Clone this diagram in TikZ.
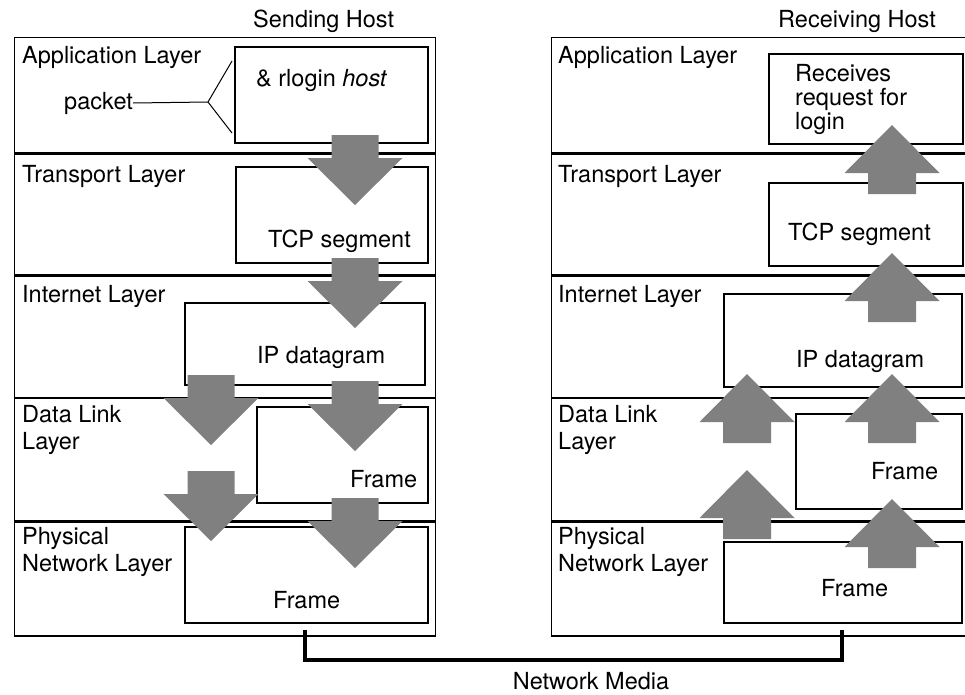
\documentclass[tikz,border=0pt]{standalone}
\usepackage{fontspec}
\setmainfont{TeX Gyre Heros}
\usetikzlibrary{positioning}
\definecolor{arrowgrey}{RGB}{128,128,128}

\begin{document}
\begin{tikzpicture}[
    x=1pt, y=-1pt,
    every node/.style={font=\fontsize{23.5}{27}\selectfont, inner sep=0pt},
    layer/.style={rectangle, draw=black, line width=1.3pt, minimum width=421pt},
    unit/.style={rectangle, draw=black, line width=1.8pt, anchor=north west},
    txt/.style={anchor=base west, align=left},
    media/.style={draw, line width=4.5pt},
    blockdown/.pic={\fill[arrowgrey] (-23.5,0) -- (-23.5,23) -- (-47.5,23) -- (0,70) -- (47.5,23) -- (23.5,23) -- (23.5,0) -- cycle;},
    blockup/.pic={\fill[arrowgrey] (-24,0) -- (-24,-21) -- (-47.5,-21) -- (0,-69) -- (47.5,-21) -- (24,-21) -- (24,0) -- cycle;}
  ]
    \useasboundingbox (0,0) rectangle (965,694);
    \clip (0,0) rectangle (965,694);

    % sending host
    \node [layer, anchor=north west, minimum height=115pt] at (14,37) (sapp) {};
    \node [layer, minimum height=121pt, below=0pt of sapp] (stcp) {};
    \node [layer, minimum height=121pt, below=0pt of stcp] (sip) {};
    \node [layer, minimum height=122pt, below=0pt of sip] (slink) {};
    \node [layer, minimum height=114pt, below=0pt of slink] (sphy) {};

    \node [txt] at (253,27) (stitle) {Sending Host};
    \node [txt] at (22,63) (sapplbl) {Application Layer};
    \node [txt] at (22,182) (stcplbl) {Transport Layer};
    \node [txt] at (22,302) (siplbl) {Internet Layer};
    \node [txt] at (22,449) (slinklbl) {Data Link\\Layer};
    \node [txt] at (22,571) (sphylbl) {Physical\\Network Layer};

    \node [unit, minimum width=193pt, minimum height=96pt] at (234,46) (sappbox) {};
    \node [unit, minimum width=192pt, minimum height=96pt] at (235,166) (stcpbox) {};
    \node [unit, minimum width=240pt, minimum height=82pt] at (184,302) (sipbox) {};
    \node [unit, minimum width=171pt, minimum height=96pt] at (256,406) (slinkbox) {};
    \node [unit, minimum width=243pt, minimum height=96pt] at (184,526) (sphybox) {};

    \node [txt] at (256,86) (rlogin) {\& rlogin \textit{host}};
    \node [txt] at (64,109) (packet) {packet};
    \node [txt] at (268,247) (stcptxt) {TCP segment};
    \node [txt] at (257,363) (siptxt) {IP datagram};
    \node [txt] at (350,487) (slinktxt) {Frame};
    \node [txt] at (273,608) (sphytxt) {Frame};

    \coordinate (fork) at (208,102);
    \coordinate (forkup) at (232,61);
    \coordinate (forkdn) at (232,133);
    \draw [line width=1pt] (packet.east) -- (fork) -- (forkup);
    \draw [line width=1pt] (fork) -- (forkdn);

    % receiving host
    \node [layer, anchor=north west, minimum width=440pt, minimum height=115pt] at (551,37) (rapp) {};
    \node [layer, minimum width=440pt, minimum height=121pt, below=0pt of rapp] (rtcp) {};
    \node [layer, minimum width=440pt, minimum height=121pt, below=0pt of rtcp] (rip) {};
    \node [layer, minimum width=440pt, minimum height=122pt, below=0pt of rip] (rlink) {};
    \node [layer, minimum width=440pt, minimum height=114pt, below=0pt of rlink] (rphy) {};

    \node [txt] at (778,27) (rtitle) {Receiving Host};
    \node [txt] at (558,63) (rapplbl) {Application Layer};
    \node [txt] at (558,182) (rtcplbl) {Transport Layer};
    \node [txt] at (558,302) (riplbl) {Internet Layer};
    \node [txt] at (558,449) (rlinklbl) {Data Link\\Layer};
    \node [txt] at (558,571) (rphylbl) {Physical\\Network Layer};

    \node [unit, minimum width=194pt, minimum height=90pt] at (768,53) (rappbox) {};
    \node [unit, minimum width=194pt, minimum height=83pt] at (768,182) (rtcpbox) {};
    \node [unit, minimum width=238pt, minimum height=93pt] at (723,293) (ripbox) {};
    \node [unit, minimum width=166pt, minimum height=95pt] at (795,413) (rlinkbox) {};
    \node [unit, minimum width=238pt, minimum height=81pt] at (723,541) (rphybox) {};

    \node [txt, font=\fontsize{23.5}{24}\selectfont] at (795,129) (rapptxt) {Receives\\request for\\login};
    \node [txt] at (788,240) (rtcptxt) {TCP segment};
    \node [txt] at (796,367) (riptxt) {IP datagram};
    \node [txt] at (871,479) (rlinktxt) {Frame};
    \node [txt] at (821,596) (rphytxt) {Frame};

    % network media
    \coordinate (ltap) at (305,630);
    \coordinate (rtap) at (842,630);
    \draw [media] (ltap) -- ++(0,30) -| (rtap);
    \node [anchor=base] at (591,689) (medialbl) {Network Media};

    % data flow
    \pic at (355,135) {blockdown};
    \pic at (355,258) {blockdown};
    \pic at (211,375) {blockdown};
    \pic at (355,381) {blockdown};
    \pic at (211,471) {blockdown};
    \pic at (355,498) {blockdown};

    \pic at (892,194) {blockup};
    \pic at (892,322) {blockup};
    \pic at (747,443) {blockup};
    \pic at (892,443) {blockup};
    \pic at (747,539) {blockup};
    \pic at (892,568) {blockup};
\end{tikzpicture}
\end{document}
